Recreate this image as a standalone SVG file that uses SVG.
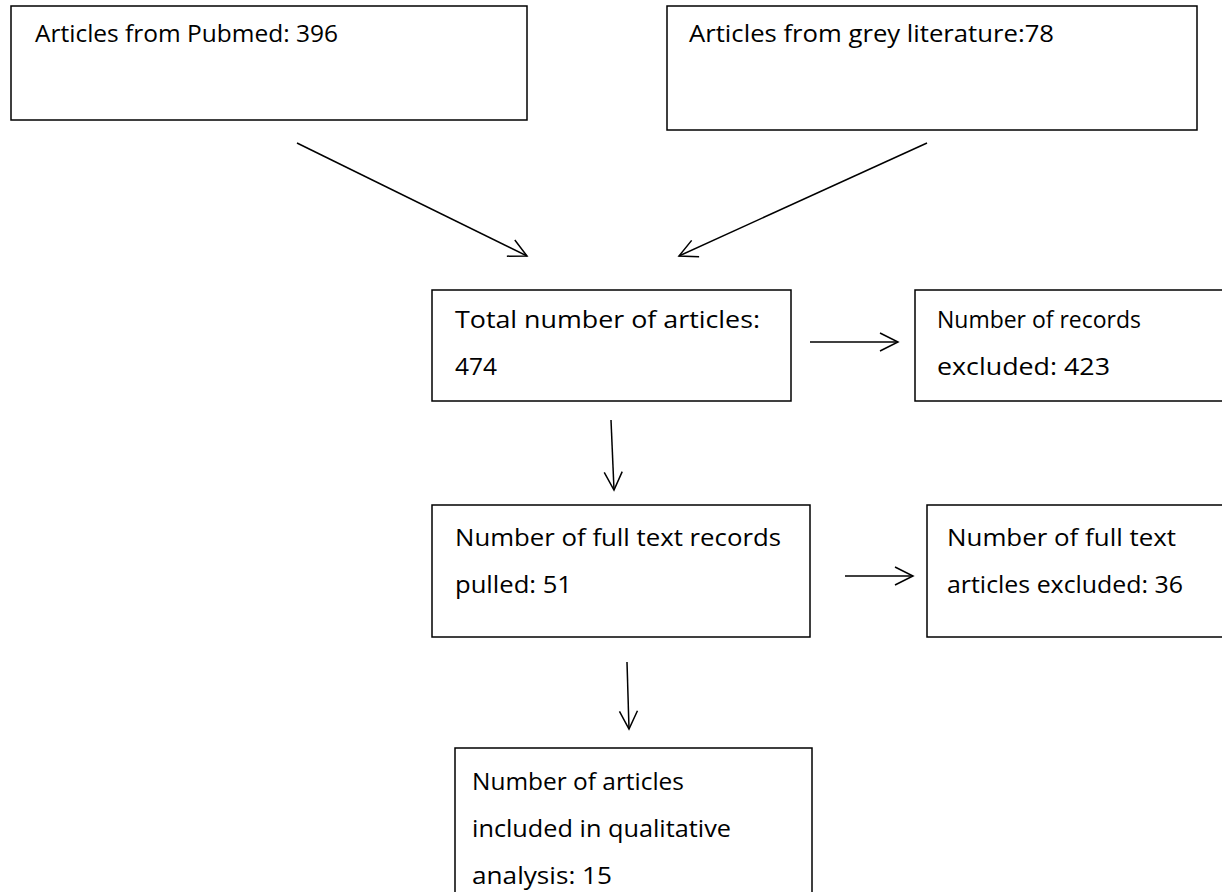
<svg xmlns="http://www.w3.org/2000/svg" width="1222" height="892" viewBox="0 0 1222 892">
<defs>
<marker id="arr" viewBox="0 0 22 22" refX="20" refY="11" markerWidth="22" markerHeight="22" markerUnits="userSpaceOnUse" orient="auto">
<path d="M2,2 L20,11 L2,20" fill="none" stroke="#000" stroke-width="1.5"/>
</marker>
<style>
rect{fill:#fff;stroke:#000;stroke-width:1.5}
text{font-family:"Open Sans","Liberation Sans",Arial,sans-serif;font-size:23px;fill:#000}
.c line{stroke:#000;stroke-width:1.5;marker-end:url(#arr)}
</style>
</defs>
<rect x="0" y="0" width="1222" height="892" style="stroke:none;fill:#fff"/>
<g id="pubmed"><rect x="11" y="6" width="516" height="114"/><text x="35" y="42" textLength="303" lengthAdjust="spacingAndGlyphs">Articles from Pubmed: 396</text></g>
<g id="grey"><rect x="667" y="6" width="530" height="124"/><text x="689" y="42" textLength="365" lengthAdjust="spacingAndGlyphs">Articles from grey literature:78</text></g>
<g id="total"><rect x="432" y="290" width="359" height="111"/><text x="455" y="328" textLength="305" lengthAdjust="spacingAndGlyphs">Total number of articles:</text><text x="455" y="375" textLength="42" lengthAdjust="spacingAndGlyphs">474</text></g>
<g id="excluded1"><rect x="915" y="290" width="320" height="111"/><text x="937" y="328" textLength="204" lengthAdjust="spacingAndGlyphs">Number of records</text><text x="937" y="375" textLength="173" lengthAdjust="spacingAndGlyphs">excluded: 423</text></g>
<g id="fulltext"><rect x="432" y="505" width="378" height="132"/><text x="455" y="546" textLength="326" lengthAdjust="spacingAndGlyphs">Number of full text records</text><text x="455" y="593" textLength="117" lengthAdjust="spacingAndGlyphs">pulled: 51</text></g>
<g id="excluded2"><rect x="927" y="505" width="310" height="132"/><text x="947" y="546" textLength="229" lengthAdjust="spacingAndGlyphs">Number of full text</text><text x="947" y="593" textLength="236" lengthAdjust="spacingAndGlyphs">articles excluded: 36</text></g>
<g id="included"><rect x="455" y="748" width="357" height="160"/><text x="472" y="790" textLength="212" lengthAdjust="spacingAndGlyphs">Number of articles</text><text x="472" y="837" textLength="259" lengthAdjust="spacingAndGlyphs">included in qualitative</text><text x="472" y="884" textLength="140" lengthAdjust="spacingAndGlyphs">analysis: 15</text></g>
<g id="connectors" class="c">
<line x1="297" y1="143" x2="527" y2="256"/>
<line x1="927" y1="143" x2="679" y2="256"/>
<line x1="810" y1="342" x2="898" y2="342"/>
<line x1="611" y1="420" x2="614" y2="490"/>
<line x1="845" y1="576" x2="913" y2="576"/>
<line x1="627" y1="662" x2="629" y2="729"/>
</g>
</svg>
